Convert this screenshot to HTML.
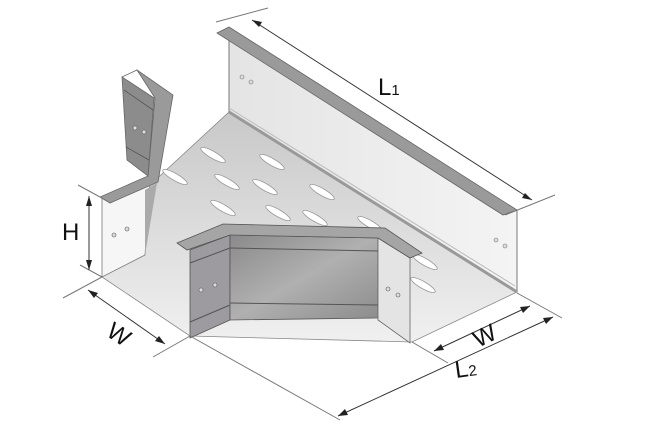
<!DOCTYPE html>
<html><head><style>body{margin:0;background:#fff}svg{display:block}</style></head><body>
<svg width="670" height="434" viewBox="0 0 670 434" xmlns="http://www.w3.org/2000/svg" font-family="Liberation Sans, sans-serif">
<defs>
<linearGradient id="fl" x1="0" y1="0" x2="0" y2="1"><stop offset="0" stop-color="#c8c8c8"/><stop offset="1" stop-color="#f0f0f0"/></linearGradient>
<linearGradient id="mid" x1="0" y1="0" x2="1" y2="1"><stop offset="0" stop-color="#8a8a8a"/><stop offset="0.5" stop-color="#b0b0b0"/><stop offset="1" stop-color="#8c8c8c"/></linearGradient>
<linearGradient id="bw" x1="0" y1="0" x2="1" y2="0"><stop offset="0" stop-color="#e4e4e4"/><stop offset="1" stop-color="#f4f4f4"/></linearGradient>
</defs>
<polygon points="150,185 229,112 517,292 412,342 190,336 102,277" fill="url(#fl)" stroke="#888" stroke-width="0.8"/>
<polygon points="229,40 506,213 517,210 517,292 229,112" fill="url(#bw)" stroke="#777" stroke-width="1"/>
<line x1="229" y1="112" x2="517" y2="292" stroke="#999" stroke-width="3"/>
<line x1="229" y1="108" x2="515" y2="286" stroke="#bbb" stroke-width="1"/>
<polygon points="217,33 229,27 517,210 503,215" fill="#9a9a9a" stroke="#666" stroke-width="0.8"/>
<g fill="#fff" stroke="#999" stroke-width="0.8">
<ellipse cx="213" cy="155" rx="14" ry="3.5" transform="rotate(30 213 155)"/>
<ellipse cx="272" cy="162" rx="14" ry="3.5" transform="rotate(30 272 162)"/>
<ellipse cx="175" cy="177" rx="14" ry="3.5" transform="rotate(30 175 177)"/>
<ellipse cx="227" cy="182" rx="14" ry="3.5" transform="rotate(30 227 182)"/>
<ellipse cx="265" cy="187" rx="14" ry="3.5" transform="rotate(30 265 187)"/>
<ellipse cx="322" cy="192" rx="14" ry="3.5" transform="rotate(30 322 192)"/>
<ellipse cx="223" cy="208" rx="14" ry="3.5" transform="rotate(30 223 208)"/>
<ellipse cx="278" cy="213" rx="14" ry="3.5" transform="rotate(30 278 213)"/>
<ellipse cx="315" cy="218" rx="14" ry="3.5" transform="rotate(30 315 218)"/>
<ellipse cx="370" cy="224" rx="14" ry="3.5" transform="rotate(30 370 224)"/>
<ellipse cx="425" cy="262" rx="14" ry="3.5" transform="rotate(30 425 262)"/>
<ellipse cx="423" cy="285" rx="14" ry="3.5" transform="rotate(30 423 285)"/>
</g>
<g fill="#ddd" stroke="#777" stroke-width="0.6">
<circle cx="242" cy="77" r="2"/><circle cx="251" cy="82" r="2"/>
<circle cx="496" cy="240" r="2"/><circle cx="505" cy="246" r="2"/>
</g>
<!-- left end -->
<polygon points="102,198 150,182 145,255 102,277" fill="#f6f6f6" stroke="#777" stroke-width="0.8"/>
<polygon points="145,190 157,183 145,255" fill="#aaa"/>
<polygon points="122,77 137,70 173,95 158,182 110,203 100,197 148,176 155,98 137,70" fill="#9a9a9a" stroke="#666" stroke-width="0.8"/>
<polygon points="122,77 154,98 148,176 127,160" fill="#8c8c8c" stroke="#666" stroke-width="0.8"/>
<line x1="124" y1="90" x2="153" y2="110" stroke="#555" stroke-width="0.8"/>
<line x1="126" y1="147" x2="149" y2="160" stroke="#555" stroke-width="0.8"/>
<g fill="#ddd" stroke="#555" stroke-width="0.6"><circle cx="135" cy="128" r="2"/><circle cx="144" cy="132" r="2"/>
<circle cx="114" cy="235" r="2"/><circle cx="127" cy="229" r="2"/></g>
<!-- front piece -->
<polygon points="190,250 230,235 230,320 190,338" fill="#9d9aa0" stroke="#555" stroke-width="0.8"/>
<polygon points="230,235 378,238 378,318 230,320" fill="url(#mid)" stroke="#555" stroke-width="0.8"/>
<polygon points="378,238 410,258 410,343 378,320" fill="#e4e4e4" stroke="#666" stroke-width="0.8"/>
<line x1="190" y1="263" x2="230" y2="248" stroke="#555"/><line x1="190" y1="322" x2="230" y2="305" stroke="#555"/>
<line x1="230" y1="248" x2="378" y2="251" stroke="#555"/><line x1="230" y1="303" x2="378" y2="305" stroke="#555"/>
<polygon points="177,243 223,224 385,228 422,253 410,258 378,238 230,235 187,250" fill="#a5a5a5" stroke="#555" stroke-width="0.8"/>
<g fill="#ddd" stroke="#555" stroke-width="0.6"><circle cx="201" cy="290" r="2"/><circle cx="215" cy="285" r="2"/>
<circle cx="388" cy="289" r="2"/><circle cx="398" cy="295" r="2"/></g>
<g stroke="#333" stroke-width="1" fill="none">
<line x1="216" y1="22" x2="268" y2="8" stroke="#777"/><line x1="505" y1="215" x2="555" y2="195" stroke="#777"/>
<line x1="252" y1="20" x2="532" y2="200"/>
<line x1="78" y1="185" x2="100" y2="197" stroke="#777"/><line x1="80" y1="265" x2="102" y2="277" stroke="#777"/>
<line x1="89" y1="196" x2="89" y2="270"/>
<line x1="63" y1="298" x2="102" y2="277" stroke="#777"/><line x1="153" y1="357" x2="190" y2="336" stroke="#777"/>
<line x1="88" y1="290" x2="165" y2="344"/>
<line x1="190" y1="336" x2="340" y2="420" stroke="#777"/>
<line x1="412" y1="342" x2="448" y2="363" stroke="#777"/><line x1="517" y1="293" x2="562" y2="318" stroke="#777"/>
<line x1="434" y1="351" x2="530" y2="306"/>
<line x1="338" y1="416" x2="553" y2="317"/>
</g>
<g fill="#222">
<polygon points="252,20 262,22 259,27"/><polygon points="532,200 522,198 525,193"/>
<polygon points="89,196 86,206 92,206"/><polygon points="89,270 86,260 92,260"/>
<polygon points="88,290 98,293 94,298"/><polygon points="165,344 155,341 159,336"/>
<polygon points="434,351 441,344 444,350"/><polygon points="530,306 523,313 520,307"/>
<polygon points="338,416 345,409 348,415"/><polygon points="553,317 546,324 543,318"/>
</g>
<g fill="#111" font-size="24">
<text x="378" y="95">L<tspan font-size="15">1</tspan></text>
<text x="62" y="240">H</text>
<text x="0" y="0" transform="translate(105,335) rotate(33)">W</text>
<text x="0" y="0" transform="translate(478,348) rotate(-26)">W</text>
<text x="0" y="0" transform="translate(456,378) rotate(-8)">L<tspan font-size="15">2</tspan></text>
</g>
</svg>
</body></html>
